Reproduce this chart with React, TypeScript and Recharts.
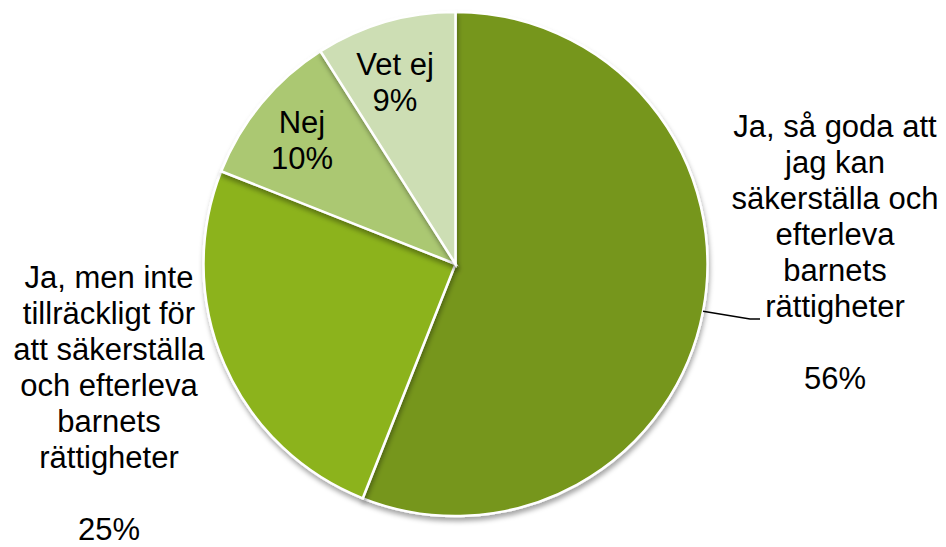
import { PieChart, Pie, Cell } from "recharts";

// Andel svar per alternativ (%), medurs från kl. 12
const categories = [
  "Ja, så goda att jag kan säkerställa och efterleva barnets rättigheter",
  "Ja, men inte tillräckligt för att säkerställa och efterleva barnets rättigheter",
  "Nej",
  "Vet ej",
];
const values = [56, 25, 10, 9];
const labelLines = [
  ["Ja, så goda att", "jag kan", "säkerställa och", "efterleva", "barnets", "rättigheter", ""],
  ["Ja, men inte", "tillräckligt för", "att säkerställa", "och efterleva", "barnets", "rättigheter", ""],
  ["Nej"],
  ["Vet ej"],
];
const colors = ["#76961a", "#8cb31f", "#abc872", "#cddeb4"];

// etikettplacering relativt tårtans mitt (textcentrum, första baslinjen)
const labelOffsets = [
  { dx: 379.5, dy: -127 },
  { dx: -346.5, dy: 24 },
  { dx: -153.5, dy: -131 },
  { dx: -60.5, dy: -189 },
];

const W = 946;
const H = 547;
const CX = 455.5;
const CY = 264;
const R = 252;
const LINE_H = 36;
const FONT = "'Liberation Sans', Arial, sans-serif";

const data = categories.map((name, i) => ({ name, value: values[i] }));

function renderLabel(props: any) {
  const { cx, cy, midAngle, outerRadius, index } = props;
  const off = labelOffsets[index];
  const x = cx + off.dx;
  const y = cy + off.dy;
  const lines = [...labelLines[index], `${values[index]}%`];
  const RAD = Math.PI / 180;
  let leader = null;
  if (index === 0) {
    const sx = cx + outerRadius * Math.cos(-midAngle * RAD);
    const sy = cy + outerRadius * Math.sin(-midAngle * RAD);
    leader = (
      <polyline
        points={`${sx},${sy} ${x - 85},${y + 182} ${x - 75},${y + 182}`}
        fill="none"
        stroke="#000"
        strokeWidth={1.5}
      />
    );
  }
  return (
    <g key={`lbl-${index}`}>
      {leader}
      <text
        x={x}
        y={y}
        textAnchor="middle"
        fill="#000"
        fontSize={31}
        fontFamily={FONT}
      >
        {lines.map((t, i) => (
          <tspan key={i} x={x} y={y + i * LINE_H}>
            {t}
          </tspan>
        ))}
      </text>
    </g>
  );
}

export default function App() {
  return (
    <div style={{ position: "absolute", left: 0, top: 0, width: W, height: H, background: "#fff" }}>
      <PieChart width={W} height={H} margin={{ top: 0, right: 0, bottom: 0, left: 0 }}>
        <defs>
          <filter id="pieShadow" x="-10%" y="-10%" width="120%" height="125%">
            <feDropShadow dx="1" dy="4" stdDeviation="2.5" floodColor="#000" floodOpacity="0.35" />
          </filter>
        </defs>
        <Pie
          data={data}
          dataKey="value"
          nameKey="name"
          cx={CX}
          cy={CY}
          outerRadius={R}
          startAngle={90}
          endAngle={-270}
          stroke="#ffffff"
          strokeWidth={2.5}
          label={renderLabel}
          labelLine={false}
          isAnimationActive={false}
          style={{ filter: "url(#pieShadow)" }}
        >
          {data.map((d, i) => (
            <Cell key={d.name} fill={colors[i]} />
          ))}
        </Pie>
      </PieChart>
    </div>
  );
}
